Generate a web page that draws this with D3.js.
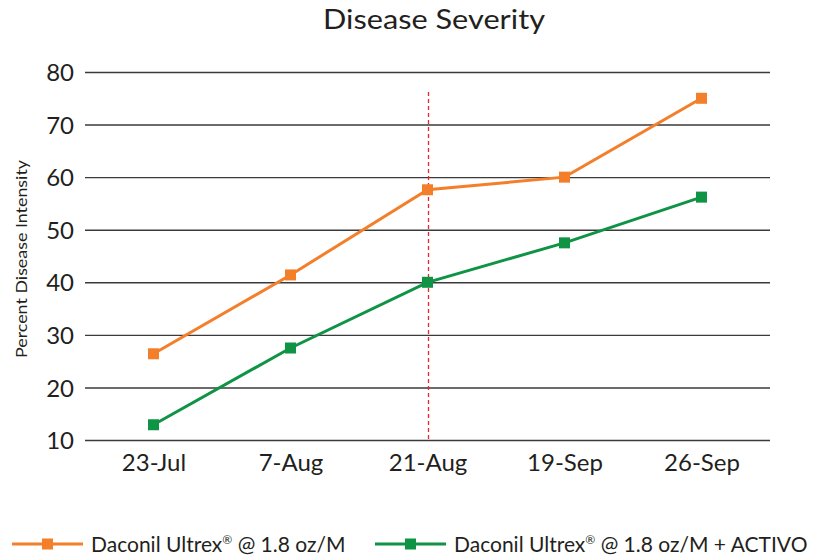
<!DOCTYPE html>
<html><head><meta charset="utf-8">
<script src="https://cdn.jsdelivr.net/npm/d3@7"></script>
<style>body{margin:0;background:#fff}svg{display:block}text{font-family:"Lato","Open Sans",sans-serif;fill:#231f20}</style>
</head><body>
<svg id="c" width="821" height="557"></svg>
<script>
const categories = ["23-Jul","7-Aug","21-Aug","19-Sep","26-Sep"];
const seriesNames = ["Daconil Ultrex® @ 1.8 oz/M","Daconil Ultrex® @ 1.8 oz/M + ACTIVO"];
const orangeValues = [26.4,41.4,57.6,60,75];
const greenValues = [12.9,27.5,40,47.5,56.2];
const yTicks = [10,20,30,40,50,60,70,80];
const colors = ["#f47f2a","#0f9345"];
const markerDate = "21-Aug";

const svg = d3.select("#c");
const x = d3.scalePoint().domain(categories).range([85,770]).padding(0.5);
const y = d3.scaleLinear().domain([10,80]).range([440,72]);

svg.append("text").attr("x",434).attr("y",29).attr("text-anchor","middle").style("font-size","27px")
  .attr("textLength",222).attr("lengthAdjust","spacingAndGlyphs").text("Disease Severity");

const gy = svg.append("g").attr("transform","translate(85,0)")
  .call(d3.axisLeft(y).tickValues(yTicks).tickSize(-685).tickPadding(12));
gy.select(".domain").remove();
gy.selectAll(".tick line").attr("stroke","#3a3a3a").attr("stroke-width",1.4);
gy.selectAll(".tick text").style("font-size","24px").attr("fill","#231f20").attr("dy","0.36em").attr("x",-11);

const gx = svg.append("g").attr("transform","translate(0,440)")
  .call(d3.axisBottom(x).tickSize(0).tickPadding(12));
gx.select(".domain").remove();
gx.selectAll(".tick text").style("font-size","24px").attr("fill","#231f20").attr("dy","0.8em");

svg.append("text").attr("transform","translate(27,259) rotate(-90)").attr("text-anchor","middle").style("font-size","15px")
  .attr("textLength",198).attr("lengthAdjust","spacingAndGlyphs").text("Percent Disease Intensity");

const mx = Math.round(x(markerDate)) + 0.5;
svg.append("line").attr("x1",mx).attr("x2",mx).attr("y1",92).attr("y2",440)
  .attr("stroke","#e8262f").attr("stroke-width",1.3).attr("stroke-dasharray","4,3");

const series = [orangeValues, greenValues];
const line = d3.line().x((d,i)=>x(categories[i])).y(d=>y(d));
series.forEach((vals,k)=>{
  svg.append("path").datum(vals).attr("d",line).attr("fill","none").attr("stroke",colors[k]).attr("stroke-width",3);
  svg.selectAll(null).data(vals).enter().append("rect")
    .attr("x",(d,i)=>x(categories[i])-5.5).attr("y",d=>y(d)-5.5).attr("width",11).attr("height",11).attr("fill",colors[k]);
});

const legX = [12,375];
const legW = [253,353];
seriesNames.forEach((n,k)=>{
  const g = svg.append("g").attr("transform",`translate(${legX[k]},544)`);
  g.append("line").attr("x1",0).attr("x2",71).attr("stroke",colors[k]).attr("stroke-width",3);
  g.append("rect").attr("x",30).attr("y",-5.5).attr("width",11).attr("height",11).attr("fill",colors[k]);
  const t = g.append("text").attr("x",79).attr("y",8).style("font-size","21px");
  const parts = n.split("®");
  t.append("tspan").text(parts[0]);
  t.append("tspan").attr("dy",-8).style("font-size","12px").text("®");
  t.append("tspan").attr("dy",8).text(parts[1]);
});
</script>
</body></html>
